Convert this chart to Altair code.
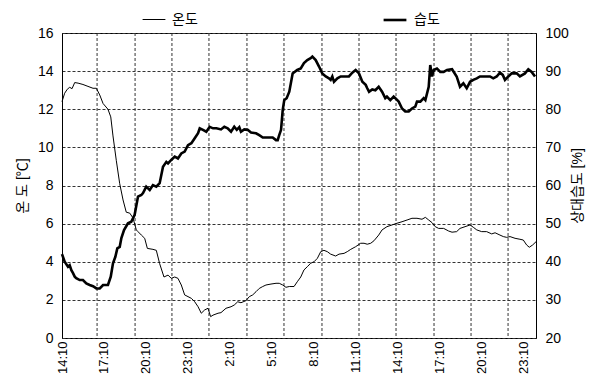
import altair as alt
import pandas as pd

# elapsed hours since 14:10 (day 1)
temp_h = [0, 0.19, 0.38, 0.55, 0.72, 0.91, 1.15, 1.50, 1.86, 2.22,
          2.46, 2.70, 2.94, 3.29, 3.49, 3.65, 3.89, 4.13, 4.37, 4.60,
          4.85, 5.08, 5.32, 5.44, 5.68, 5.92, 6.11, 6.51, 6.75, 6.99,
          7.30, 7.59, 7.82, 8.07, 8.30, 8.54, 8.78, 9.02, 9.26, 9.50,
          9.74, 9.97, 10.21, 10.45, 10.64, 10.81, 11.17, 11.38, 11.74, 12.10,
          12.33, 12.58, 12.81, 13.17, 13.41, 13.65, 13.89, 14.12, 14.37, 14.60,
          14.96, 15.32, 15.55, 15.80, 16.03, 16.27, 16.61, 16.84, 17.09, 17.32,
          17.56, 17.80, 18.04, 18.28, 18.52, 18.75, 18.99, 19.23, 19.59, 19.83,
          20.19, 20.42, 20.67, 21.02, 21.38, 21.62, 21.85, 22.10, 22.33, 22.67,
          22.91, 23.26, 23.62, 23.98, 24.34, 24.70, 25.05, 25.41, 25.77, 26.01,
          26.25, 26.49, 26.72, 26.96, 27.32, 27.68, 27.92, 28.25, 28.49, 28.85,
          29.21, 29.44, 29.69, 30.04, 30.40, 30.76, 31.00, 31.35, 31.59, 31.83,
          32.07, 32.43, 32.78, 33.02, 33.26, 33.45, 33.69, 33.93]
temp_v = [12.4, 12.84, 13.05, 13.15, 13.08, 13.4, 13.37, 13.3, 13.2, 13.1,
          13.1, 12.75, 12.3, 12.0, 11.6, 10.6, 9.3, 8.1, 7.24, 6.6,
          6.55, 6.3, 5.67, 5.58, 5.4, 5.23, 4.7, 4.65, 4.6, 3.9,
          3.2, 3.3, 3.13, 3.2, 3.13, 2.78, 2.26, 2.17, 2.08, 1.9,
          1.64, 1.3, 1.47, 1.56, 1.12, 1.2, 1.3, 1.33, 1.56, 1.64,
          1.73, 1.9, 1.85, 1.96, 2.17, 2.26, 2.43, 2.6, 2.7, 2.78,
          2.83, 2.87, 2.87, 2.78, 2.66, 2.7, 2.7, 2.95, 3.2, 3.57,
          3.74, 3.92, 4.0, 4.18, 4.53, 4.6, 4.53, 4.4, 4.3, 4.4,
          4.44, 4.53, 4.65, 4.79, 4.97, 4.97, 4.92, 4.97, 5.1, 5.4,
          5.67, 5.84, 5.93, 6.02, 6.1, 6.19, 6.28, 6.28, 6.23, 6.33,
          6.19, 6.05, 5.84, 5.75, 5.75, 5.61, 5.55, 5.58, 5.75, 5.84,
          5.93, 5.81, 5.67, 5.58, 5.58, 5.46, 5.52, 5.4, 5.32, 5.28,
          5.32, 5.23, 5.18, 5.14, 4.88, 4.76, 4.88, 5.05]

hum_h = [0, 0.19, 0.43, 0.55, 0.67, 0.79, 0.91, 1.02, 1.27, 1.50,
         1.74, 1.98, 2.22, 2.46, 2.70, 2.94, 3.29, 3.49, 3.65, 3.82,
         3.96, 4.13, 4.25, 4.44, 4.72, 4.96, 5.20, 5.44, 5.68, 5.80,
         6.03, 6.28, 6.51, 6.75, 6.99, 7.23, 7.47, 7.59, 7.82, 8.07,
         8.30, 8.54, 8.78, 9.02, 9.26, 9.50, 9.74, 9.86, 10.09, 10.33,
         10.57, 10.81, 11.05, 11.38, 11.62, 11.86, 12.10, 12.33, 12.51, 12.69,
         12.81, 13.05, 13.29, 13.53, 13.89, 14.12, 14.37, 14.72, 15.08, 15.32,
         15.44, 15.55, 15.68, 15.80, 15.91, 16.08, 16.27, 16.51, 16.84, 17.09,
         17.32, 17.56, 17.80, 17.92, 18.16, 18.40, 18.63, 18.88, 19.11, 19.23,
         19.35, 19.47, 19.71, 19.95, 20.31, 20.54, 20.78, 21.02, 21.26, 21.50,
         21.74, 21.85, 21.98, 22.21, 22.43, 22.67, 22.91, 23.14, 23.26, 23.50,
         23.74, 23.86, 24.10, 24.34, 24.57, 24.82, 25.05, 25.29, 25.41, 25.65,
         25.89, 26.01, 26.25, 26.36, 26.49, 26.61, 26.84, 27.08, 27.32, 27.56,
         27.92, 28.25, 28.49, 28.73, 28.97, 29.21, 29.44, 29.69, 29.92, 30.28,
         30.64, 30.87, 31.12, 31.35, 31.55, 31.71, 31.95, 32.19, 32.55, 32.78,
         33.14, 33.38, 33.62, 33.86]
hum_v = [42.0, 40.0, 38.7, 39.1, 37.8, 37.0, 36.1, 35.7, 35.2, 35.2,
         34.3, 33.9, 33.6, 33.0, 33.0, 33.9, 33.9, 36.1, 39.6, 41.3,
         43.5, 43.9, 46.2, 48.3, 50.1, 50.5, 52.3, 57.1, 57.5, 58.0,
         59.7, 58.8, 60.1, 59.7, 60.6, 64.9, 66.2, 65.8, 66.7, 67.6,
         67.1, 68.4, 68.9, 70.6, 71.1, 72.4, 73.7, 75.0, 74.6, 74.1,
         75.4, 75.0, 75.0, 74.7, 75.4, 75.0, 74.1, 75.4, 74.6, 75.3,
         74.1, 74.7, 74.6, 73.9, 73.7, 73.2, 72.6, 72.6, 72.6, 71.9,
         71.9, 73.2, 74.6, 79.8, 82.4, 82.9, 84.6, 89.4, 90.3, 90.7,
         92.1, 92.9, 93.4, 93.8, 92.9, 91.2, 89.4, 88.6, 88.1, 87.7,
         88.6, 87.2, 88.1, 88.6, 88.6, 88.6, 89.6, 90.3, 89.4, 87.2,
         86.4, 85.5, 84.6, 85.2, 85.0, 85.9, 84.6, 82.9, 83.3, 82.4,
         83.3, 82.9, 82.0, 80.2, 79.4, 79.4, 80.2, 80.7, 82.0, 82.0,
         82.9, 82.4, 85.9, 91.6, 88.6, 90.3, 90.7, 89.8, 89.8, 90.3,
         90.5, 88.6, 85.9, 86.8, 85.5, 87.2, 87.7, 88.1, 88.6, 88.6,
         88.6, 88.1, 88.6, 89.6, 89.0, 87.7, 88.6, 89.4, 89.4, 88.6,
         89.4, 90.5, 89.8, 88.6]

grid_x = [2.51, 5.23, 7.87, 10.52, 13.24, 15.89, 18.61, 21.26, 23.91, 26.63, 29.28, 31.93]
tick_x = [0, 3, 6, 9, 12, 15, 18, 21, 24, 27, 30, 33]
tick_labels = ["14:10", "17:10", "20:10", "23:10", "2:10", "5:10",
               "8:10", "11:10", "14:10", "17:10", "20:10", "23:10"]
series_names = ["온도", "습도"]
x_domain = [0, 33.93]
temp_ticks = [0, 2, 4, 6, 8, 10, 12, 14, 16]
hum_ticks = [20, 30, 40, 50, 60, 70, 80, 90, 100]

FONT = "Liberation Sans, Arial, Noto Sans CJK KR"

df_t = pd.DataFrame({"h": temp_h, "v": temp_v, "series": series_names[0]})
df_h = pd.DataFrame({"h": hum_h, "v": hum_v, "series": series_names[1]})
df_g = pd.DataFrame({"g": grid_x})

label_expr = "[" + ",".join("'%s'" % s for s in tick_labels) + "][round(datum.value/3)]"

xscale = alt.Scale(domain=x_domain, nice=False, zero=False)
xaxis = alt.Axis(values=tick_x, labelExpr=label_expr, labelAngle=270, grid=False,
                 ticks=False, domain=False, title=None, labelPadding=3, labelFontSize=13,
                 labelOverlap=False, labelFlush=False)

sw_enc = alt.StrokeWidth(
    "series:N",
    scale=alt.Scale(domain=series_names, range=[1, 2.6]),
    legend=alt.Legend(orient="none", legendX=80, legendY=-26, direction="horizontal",
                      title=None, symbolType="stroke", symbolSize=520,
                      symbolStrokeColor="black", labelFontSize=14, labelFont=FONT,
                      columnPadding=180, labelOffset=6),
)

grid = alt.Chart(df_g).mark_rule(color="#333", strokeDash=[3, 2], strokeWidth=1).encode(
    x=alt.X("g:Q", scale=xscale, axis=xaxis)
)

temp = alt.Chart(df_t).mark_line(color="black").encode(
    x=alt.X("h:Q", scale=xscale, axis=xaxis),
    y=alt.Y("v:Q", scale=alt.Scale(domain=[0, 16], nice=False),
            axis=alt.Axis(orient="left", values=temp_ticks, grid=True, gridDash=[3, 2],
                          gridColor="#333", gridOpacity=1, title="온 도 [℃]",
                          labelPadding=9, titlePadding=8, domainColor="black")),
    strokeWidth=sw_enc,
)

hum = alt.Chart(df_h).mark_line(color="black").encode(
    x=alt.X("h:Q", scale=xscale, axis=xaxis),
    y=alt.Y("v:Q", scale=alt.Scale(domain=[20, 100], nice=False),
            axis=alt.Axis(orient="right", values=hum_ticks, grid=False, title="상대습도 [%]",
                          titleAngle=270, labelPadding=9, titlePadding=16, domainColor="black")),
    strokeWidth=sw_enc,
)

chart = alt.layer(grid, temp, hum).resolve_scale(y="independent").properties(
    width=474, height=305,
    padding={"left": 54, "top": 25, "right": 51, "bottom": 40},
    autosize=alt.AutoSizeParams(type="none"),
).configure_view(stroke="black", strokeWidth=1).configure_axis(
    labelFont=FONT, titleFont=FONT, labelFontSize=14, titleFontSize=14,
    labelColor="black", titleColor="black", titleFontWeight="normal", ticks=False,
)

chart.save("out.html", embed_options={"renderer": "svg", "actions": False})
